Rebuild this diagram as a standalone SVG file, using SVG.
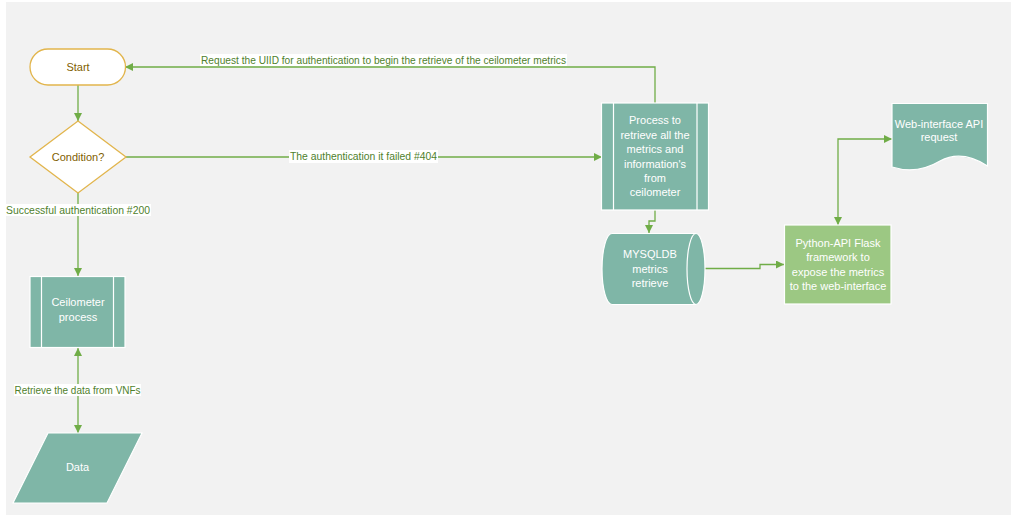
<svg xmlns="http://www.w3.org/2000/svg" width="1013" height="517" viewBox="0 0 1013 517">
<defs>
<style>
.bg{fill:#f2f2f2}
.term{fill:#ffffff;stroke:#e2b54c;stroke-width:1.3}
.teal{fill:#7fb6a7;stroke:#ffffff;stroke-width:1.2}
.green{fill:#9cc883;stroke:#ffffff;stroke-width:1.2}
.edge{fill:none;stroke:#70ad47;stroke-width:1.3}
.lblbg{fill:#ffffff}
.lbl{font-family:"Liberation Sans",Arial,sans-serif;font-size:10.5px;fill:#4f7f2c}
.ntxt{font-family:"Liberation Sans",Arial,sans-serif;font-size:11px;fill:#ffffff;text-anchor:middle}
.dtxt{font-family:"Liberation Sans",Arial,sans-serif;font-size:11px;fill:#7f6000;text-anchor:middle}
</style>
<marker id="arr" viewBox="0 0 10 10" refX="10" refY="5" markerWidth="8" markerHeight="8" markerUnits="userSpaceOnUse" orient="auto-start-reverse">
<path d="M0,0 L10,5 L0,10 Z" fill="#70ad47"/>
</marker>
</defs>
<rect class="bg" x="6" y="2" width="1005" height="513"/>

<g id="connectors">
<path class="edge" d="M78,85 V121" marker-end="url(#arr)"/>
<path class="edge" d="M655,103 V67 H125" marker-end="url(#arr)"/>
<path class="edge" d="M126,157 H602" marker-end="url(#arr)"/>
<path class="edge" d="M78,193 V276" marker-end="url(#arr)"/>
<path class="edge" d="M78,348 V433" marker-start="url(#arr)" marker-end="url(#arr)"/>
<path class="edge" d="M655,210 V221 H649 V233" marker-end="url(#arr)"/>
<path class="edge" d="M697,268.5 H760 V264.5 H784" marker-end="url(#arr)"/>
<path class="edge" d="M838,225 V139 H892" marker-start="url(#arr)" marker-end="url(#arr)"/>
<g id="labels">
<rect class="lblbg" x="200" y="54" width="367" height="12"/>
<text class="lbl" x="201" y="63.5" textLength="365" lengthAdjust="spacingAndGlyphs">Request the UIID for authentication to begin the retrieve of the ceilometer metrics</text>
<rect class="lblbg" x="289" y="150" width="149" height="13"/>
<text class="lbl" x="290" y="160" textLength="147" lengthAdjust="spacingAndGlyphs">The authentication it failed #404</text>
<rect class="lblbg" x="6" y="204" width="145" height="12"/>
<text class="lbl" x="6" y="213.5" textLength="144" lengthAdjust="spacingAndGlyphs">Successful authentication #200</text>
<rect class="lblbg" x="14" y="384" width="127" height="12"/>
<text class="lbl" x="14.5" y="393.5" textLength="126" lengthAdjust="spacingAndGlyphs">Retrieve the data from VNFs</text>
</g>
</g>

<g id="start">
<rect class="term" x="30" y="49" width="95.5" height="36" rx="18" ry="18"/>
<text class="dtxt" x="78" y="71">Start</text>
</g>

<g id="condition">
<path class="term" d="M78,121 L126,157 L78,193 L30,157 Z"/>
<text class="dtxt" x="78" y="161">Condition?</text>
</g>

<g id="ceilometer">
<rect class="teal" x="30" y="276.5" width="95" height="71"/>
<path d="M41.5,276.5 V347.5 M113.5,276.5 V347.5" stroke="#ffffff" stroke-width="1.2"/>
<text class="ntxt" x="78" y="306">Ceilometer</text>
<text class="ntxt" x="78" y="321">process</text>
</g>

<g id="data">
<path class="teal" d="M48,433 H142 L107,503 H13 Z"/>
<text class="ntxt" x="77.5" y="471">Data</text>
</g>

<g id="process">
<rect class="teal" x="601.5" y="103" width="107" height="107"/>
<path d="M613.5,103 V210 M697,103 V210" stroke="#ffffff" stroke-width="1.2"/>
<text class="ntxt" x="655" y="124">Process to</text>
<text class="ntxt" x="655" y="139">retrieve all the</text>
<text class="ntxt" x="655" y="153">metrics and</text>
<text class="ntxt" x="655" y="168">information's</text>
<text class="ntxt" x="655" y="182">from</text>
<text class="ntxt" x="655" y="196">ceilometer</text>
</g>

<g id="mysqldb">
<path class="teal" d="M612,233.5 H696 A9,35.5 0 0 1 696,304.5 H612 A10,35.5 0 0 1 612,233.5 Z"/>
<path d="M696,233.5 A9,35.5 0 0 0 696,304.5" fill="none" stroke="#ffffff" stroke-width="1.2"/>
<text class="ntxt" x="650" y="258">MYSQLDB</text>
<text class="ntxt" x="650" y="273">metrics</text>
<text class="ntxt" x="650" y="287">retrieve</text>
</g>

<g id="python">
<rect class="green" x="784.5" y="225" width="106.5" height="79"/>
<text class="ntxt" x="838" y="247">Python-API Flask</text>
<text class="ntxt" x="838" y="261">framework to</text>
<text class="ntxt" x="838" y="275.5">expose the metrics</text>
<text class="ntxt" x="838" y="290">to the web-interface</text>
</g>

<g id="webapi">
<path class="teal" d="M892,103.5 H987.5 V166 C972,156 955,153 940,161 C925,170 908,172 892,167 Z"/>
<text class="ntxt" x="939" y="128">Web-interface API</text>
<text class="ntxt" x="939" y="141">request</text>
</g>
</svg>
